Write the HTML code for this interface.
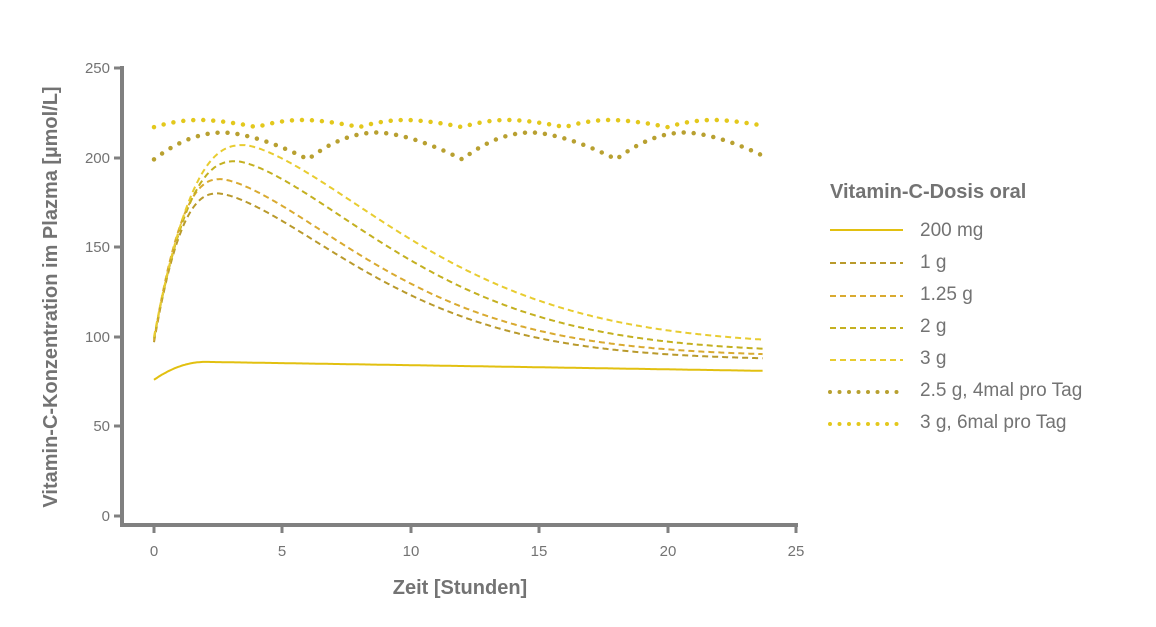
<!DOCTYPE html>
<html><head><meta charset="utf-8"><style>
body{margin:0;background:#fff;width:1156px;height:622px;overflow:hidden}
svg text{font-family:"Liberation Sans",sans-serif;fill:#737373}
</style></head><body>
<svg id="s" width="1156" height="622" xmlns="http://www.w3.org/2000/svg">
<g stroke="#808080" stroke-width="4" fill="none">
<line x1="122" y1="66" x2="122" y2="527"/>
<line x1="120" y1="525" x2="798" y2="525"/>
</g>
<g stroke="#808080" stroke-width="3">
<line x1="114" y1="68" x2="122" y2="68"/><line x1="114" y1="158" x2="122" y2="158"/>
<line x1="114" y1="247" x2="122" y2="247"/><line x1="114" y1="337" x2="122" y2="337"/>
<line x1="114" y1="426" x2="122" y2="426"/><line x1="114" y1="516" x2="122" y2="516"/>
<line x1="154" y1="525" x2="154" y2="533"/><line x1="282" y1="525" x2="282" y2="533"/>
<line x1="411" y1="525" x2="411" y2="533"/><line x1="539" y1="525" x2="539" y2="533"/>
<line x1="668" y1="525" x2="668" y2="533"/><line x1="796" y1="525" x2="796" y2="533"/>
</g>
<g font-size="15" text-anchor="end">
<text x="110" y="73">250</text><text x="110" y="163">200</text><text x="110" y="252">150</text>
<text x="110" y="342">100</text><text x="110" y="431">50</text><text x="110" y="521">0</text>
</g>
<g font-size="15" text-anchor="middle">
<text x="154" y="556">0</text><text x="282" y="556">5</text><text x="411" y="556">10</text>
<text x="539" y="556">15</text><text x="668" y="556">20</text><text x="796" y="556">25</text>
</g>
<text x="460" y="594" font-size="20" text-anchor="middle" font-weight="bold">Zeit [Stunden]</text>
<text transform="translate(57,297) rotate(-90)" font-size="20" text-anchor="middle" font-weight="bold">Vitamin-C-Konzentration im Plazma [µmol/L]</text>
<g id="curves" fill="none" stroke-width="2"></g>
<text x="830" y="198" font-size="20" font-weight="bold">Vitamin-C-Dosis oral</text>
<g font-size="19">
<text x="920" y="236">200 mg</text><text x="920" y="268">1 g</text><text x="920" y="300">1.25 g</text>
<text x="920" y="332">2 g</text><text x="920" y="364">3 g</text><text x="920" y="396">2.5 g, 4mal pro Tag</text>
<text x="920" y="428">3 g, 6mal pro Tag</text>
</g>
<g fill="none" stroke-width="2">
<line x1="830" y1="230" x2="903" y2="230" stroke="#e2c010"/>
<line x1="830" y1="263" x2="903" y2="263" stroke="#b99a2c" stroke-dasharray="6 4"/>
<line x1="830" y1="296" x2="903" y2="296" stroke="#d9aa30" stroke-dasharray="6 4"/>
<line x1="830" y1="328" x2="903" y2="328" stroke="#c4b020" stroke-dasharray="6 4"/>
<line x1="830" y1="360" x2="903" y2="360" stroke="#e8cc30" stroke-dasharray="6 4"/>
<line x1="830" y1="392" x2="905" y2="392" stroke="#b8a030" stroke-width="4" stroke-linecap="round" stroke-dasharray="0 9.5"/>
<line x1="830" y1="424" x2="905" y2="424" stroke="#e3c81c" stroke-width="4" stroke-linecap="round" stroke-dasharray="0 9.5"/>
</g>
</svg>
<script>
var X=function(t){return 154+25.68*t},Y=function(v){return 516-1.792*v};
var g=document.getElementById('curves');
function add(f,col,extra){var d='';for(var t=0;t<=23.7001;t+=0.05){d+=(d?'L':'M')+X(t).toFixed(1)+' '+Y(f(t)).toFixed(1)}
var p=document.createElementNS('http://www.w3.org/2000/svg','path');p.setAttribute('d',d);p.setAttribute('stroke',col);
for(var k in extra)p.setAttribute(k,extra[k]);g.appendChild(p);}
function dose(v0,P,tp,E,s){return function(t){if(t<tp){var u=1-t/tp;return v0+(P-v0)*(1-Math.pow(u,2.5));}
return E+(P-E)*Math.exp(-Math.pow((t-tp)/s,1.5));}}
var dash={'stroke-dasharray':'6 4'};
add(dose(97,180,2.5,87,7.8),'#b99a2c',dash);
add(dose(98,188,2.6,89,8.0),'#d9aa30',dash);
add(dose(99,198,3.2,91,8.4),'#c4b020',dash);
add(dose(100,207,3.5,95,8.8),'#e8cc30',dash);
add(function(t){return t<2?76+10*(1-Math.pow(1-t/2,2)):86-5*(t-2)/21.7},'#e2c010',{});
function per(T,lo,hi,tp){return function(t){var u=t%T;if(t>0.01&&u<0.01)u=0;
if(u<tp){return lo+(hi-lo)*(1-Math.pow(1-u/tp,2));}return hi-(hi-lo)*Math.pow((u-tp)/(T-tp),1.6);}}
var dot={'stroke-width':'4.5','stroke-linecap':'round','stroke-dasharray':'0 10'};
add(per(6,199,214,2.7),'#b8a030',dot);
add(per(4,217,221,1.8),'#e3c81c',dot);
</script>
</body></html>
